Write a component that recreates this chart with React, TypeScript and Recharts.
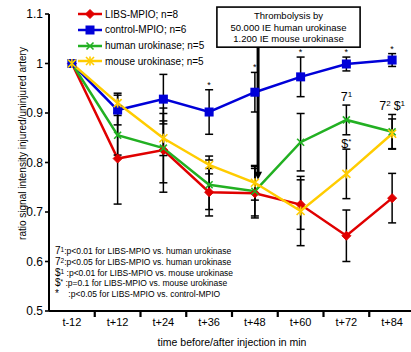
import React from 'react';
import {
  LineChart,
  Line,
  XAxis,
  YAxis,
  ErrorBar,
  ReferenceDot,
  ReferenceArea,
  ReferenceLine,
} from 'recharts';

const FONT = '"Liberation Sans", Arial, sans-serif';

// ---- data ----
const categories = ['t-12', 't+12', 't+24', 't+36', 't+48', 't+60', 't+72', 't+84'];
const libsMpio = [1.0, 0.808, 0.825, 0.74, 0.738, 0.715, 0.652, 0.728];
const libsMpioErr = [0, 0.092, 0.085, 0.048, 0.05, 0.05, 0.052, 0.05];
const controlMpio = [1.0, 0.906, 0.928, 0.902, 0.942, 0.973, 0.999, 1.007];
const controlMpioErr = [0, 0.03, 0.05, 0.045, 0.04, 0.04, 0.014, 0.013];
const humanUk = [1.0, 0.855, 0.829, 0.755, 0.742, 0.841, 0.886, 0.862];
const humanUkErr = [0, 0.04, 0.07, 0.05, 0.05, 0.058, 0.03, 0.035];
const mouseUk = [1.0, 0.92, 0.849, 0.795, 0.759, 0.702, 0.777, 0.858];
const mouseUkErr = [0, 0.02, 0.035, 0.018, 0.035, 0.07, 0.05, 0.03];
const yTicks = [0.5, 0.6, 0.7, 0.8, 0.9, 1.0, 1.1];
const starIdx = [3, 4, 5, 6, 7];
const legendNames = ['LIBS-MPIO; n=8', 'control-MPIO; n=6', 'human urokinase; n=5', 'mouse urokinase; n=5'];
const footnotes = [
  ['7', '1', ':p<0.01 for LIBS-MPIO vs. human urokinase'],
  ['7', '2', ':p<0.05 for LIBS-MPIO vs. human urokinase'],
  ['$', '1', ' :p<0.01 for LIBS-MPIO vs. mouse urokinase'],
  ['$', '*', ' :p=0.1 for LIBS-MPIO vs. mouse urokinase'],
  ['*', '', '    :p<0.05 for LIBS-MPIO vs. control-MPIO'],
];
const boxLines = ['Thrombolysis by', '50.000 IE human urokinase', '1.200 IE mouse urokinase'];
const boxX = [3.17, 6.3];
const boxY = [1.033, 1.114];
const arrowX = 4.07;
const arrowTipY = 0.765;

const data = categories.map((c, i) => ({
  x: i,
  label: c,
  libs: libsMpio[i],
  libsErr: libsMpioErr[i],
  control: controlMpio[i],
  controlErr: controlMpioErr[i],
  human: humanUk[i],
  humanErr: humanUkErr[i],
  mouse: mouseUk[i],
  mouseErr: mouseUkErr[i],
}));

const RED = '#e00000';
const BLUE = '#0000d8';
const GREEN = '#22b022';
const YELLOW = '#ffcc00';
const colors = [RED, BLUE, GREEN, YELLOW];

// ---- layout ----
const W = 415;
const H = 352;
const YAXIS_W = 49;
const XAXIS_H = 41;
const TOP = 14;
const TICK_SIZE = 4;
const TICK_MARGIN = 3;
const Y_MIN = 0.5;
const Y_MAX = 1.1;
// data units for a 6px tick below the x axis
const TICK_DATA = ((Y_MAX - Y_MIN) / (H - TOP - XAXIS_H)) * 6;

// ---- markers ----
const Marker = ({ kind, cx, cy }: { kind: number; cx: number; cy: number }) => {
  if (kind === 0) {
    const r = 4.5;
    return (
      <polygon
        points={`${cx},${cy - r} ${cx + r},${cy} ${cx},${cy + r} ${cx - r},${cy}`}
        fill={RED}
        stroke={RED}
        strokeWidth={1}
        strokeLinejoin="round"
      />
    );
  }
  if (kind === 1) {
    return <rect x={cx - 4.5} y={cy - 4.5} width={9} height={9} fill={BLUE} />;
  }
  if (kind === 2) {
    const r = 3.5;
    return (
      <g stroke={GREEN} strokeWidth={1.6}>
        <line x1={cx - r} y1={cy - r} x2={cx + r} y2={cy + r} />
        <line x1={cx - r} y1={cy + r} x2={cx + r} y2={cy - r} />
      </g>
    );
  }
  const r = 4;
  return (
    <g stroke={YELLOW} strokeWidth={1.6}>
      <line x1={cx - r} y1={cy - r} x2={cx + r} y2={cy + r} />
      <line x1={cx - r} y1={cy + r} x2={cx + r} y2={cy - r} />
      <line x1={cx} y1={cy - r - 0.5} x2={cx} y2={cy + r + 0.5} />
    </g>
  );
};

const dotFor = (kind: number) => (p: any) => (
  <Marker key={`d${kind}-${p.index}`} kind={kind} cx={p.cx} cy={p.cy} />
);

const XTick = (props: any) => {
  const { x, y, payload } = props;
  const idx = payload.value as number;
  return (
    <text x={x} y={y} dy="0.71em" textAnchor="middle" fontSize={11} fill="#000" fontFamily={FONT}>
      {categories[idx]}
    </text>
  );
};

const YLabel = (props: any) => {
  const vb = props.viewBox;
  const cx = vb.x + 23;
  const cy = vb.y + vb.height / 2 - 19;
  return (
    <text
      x={cx}
      y={cy}
      transform={`rotate(-90 ${cx} ${cy})`}
      textAnchor="middle"
      dominantBaseline="middle"
      fontSize={10}
      fontFamily={FONT}
      fill="#000"
    >
      ratio signal intensity injured/uninjured artery
    </text>
  );
};

const BoxShape = (props: any) => {
  const { x, y, width, height } = props;
  const cx = x + width / 2;
  return (
    <g>
      <rect x={x} y={y} width={width} height={height} fill="#fff" stroke="#000" strokeWidth={1.6} />
      {boxLines.map((t, i) => (
        <text
          key={i}
          x={cx}
          y={y + 9.5 + i * 11.5}
          textAnchor="middle"
          dominantBaseline="middle"
          fontSize={9.5}
          fontFamily={FONT}
          fill="#000"
        >
          {t}
        </text>
      ))}
    </g>
  );
};

const ArrowShape = (props: any) => {
  const { x1, y1, x2, y2 } = props;
  const head = 8;
  return (
    <g>
      <line x1={x1} y1={y1} x2={x2} y2={y2 - head + 1} stroke="#000" strokeWidth={3} />
      <polygon points={`${x2 - 4},${y2 - head} ${x2 + 4},${y2 - head} ${x2},${y2}`} fill="#000" />
    </g>
  );
};

const TickShape = (props: any) => {
  const { x1, y1, y2 } = props;
  return <rect x={x1 - 1.1} y={Math.min(y1, y2)} width={2.2} height={Math.abs(y2 - y1)} fill="#000" />;
};

const Star = (props: any) => (
  <text x={props.cx} y={props.cy - 2} textAnchor="middle" fontSize={9} fontFamily={FONT} fill="#000">
    *
  </text>
);

const SymbolText = ({ cx, cy, parts }: { cx: number; cy: number; parts: [string, string][] }) => (
  <text x={cx} y={cy - 4} textAnchor="middle" fontFamily={FONT} style={{ fill: '#000' }} stroke="none">
    {parts.map(([main, sup], i) => (
      <React.Fragment key={i}>
        <tspan fontSize={12.5} style={{ fill: '#000' }} dy={i === 0 ? 0 : 4} dx={i === 0 ? 0 : 3}>
          {main}
        </tspan>
        <tspan fontSize={8} style={{ fill: '#000' }} dy={-4}>
          {sup}
        </tspan>
      </React.Fragment>
    ))}
  </text>
);

const annotations: { x: number; y: number; parts: [string, string][] }[] = [
  { x: 6, y: humanUk[6] + humanUkErr[6], parts: [['7', '1']] },
  { x: 7, y: humanUk[7] + humanUkErr[7], parts: [['7', '2'], ['$', '1']] },
  { x: 6, y: mouseUk[6] + mouseUkErr[6] - 0.005, parts: [['$', '*']] },
];

export default function App() {
  const seriesKeys = ['libs', 'control', 'human', 'mouse'];
  return (
    <div
      style={{
        position: 'absolute',
        left: 0,
        top: 0,
        width: 411,
        height: H,
        overflow: 'hidden',
        background: '#fff',
        fontFamily: FONT,
      }}
    >
      <LineChart width={W} height={H} data={data} margin={{ top: TOP, right: 0, left: 0, bottom: 0 }}>
        <XAxis
          dataKey="x"
          type="number"
          domain={[-0.5, categories.length - 0.5]}
          ticks={categories.map((_, i) => i)}
          tick={(p: any) => <XTick {...p} />}
          tickLine={false}
          stroke="#000"
          tickSize={TICK_SIZE}
          tickMargin={TICK_MARGIN}
          axisLine={{ stroke: '#000', strokeWidth: 2 }}
          height={XAXIS_H}
          interval={0}
          label={{
            value: 'time before/after injection in min',
            position: 'insideBottom',
            offset: 6,
            fontSize: 10.5,
            fill: '#000',
            fontFamily: FONT,
          }}
        />
        <YAxis
          type="number"
          domain={[Y_MIN, Y_MAX]}
          ticks={yTicks}
          width={YAXIS_W}
          stroke="#000"
          tickSize={TICK_SIZE}
          tickMargin={2}
          tickLine={{ stroke: '#000', strokeWidth: 1.6 }}
          axisLine={{ stroke: '#000', strokeWidth: 2 }}
          tick={{ fontSize: 12, fill: '#000', fontFamily: FONT }}
          tickFormatter={(v: number) => (Math.abs(v - 1) < 1e-9 ? '1' : v.toFixed(1))}
          interval={0}
          label={<YLabel />}
        />
        {categories.slice(0, -1).map((_, i) => (
          <ReferenceLine
            key={`b${i}`}
            segment={[
              { x: i + 0.5, y: Y_MIN },
              { x: i + 0.5, y: Y_MIN - TICK_DATA },
            ]}
            ifOverflow="visible"
            stroke="#000"
            strokeWidth={2}
            shape={<TickShape />}
          />
        ))}
        {seriesKeys.map((k, i) => (
          <Line
            key={k}
            dataKey={k}
            stroke={colors[i]}
            strokeWidth={2.5}
            dot={dotFor(i)}
            activeDot={false}
            isAnimationActive={false}
          >
            <ErrorBar dataKey={`${k}Err`} direction="y" width={4} stroke="#000" strokeWidth={1.5} />
          </Line>
        ))}
        <ReferenceArea
          x1={boxX[0]}
          x2={boxX[1]}
          y1={boxY[0]}
          y2={boxY[1]}
          ifOverflow="visible"
          shape={<BoxShape />}
        />
        <ReferenceLine
          segment={[
            { x: arrowX, y: boxY[0] },
            { x: arrowX, y: arrowTipY },
          ]}
          ifOverflow="visible"
          shape={<ArrowShape />}
        />
        {starIdx.map((i) => (
          <ReferenceDot
            key={`s${i}`}
            x={i}
            y={controlMpio[i] + controlMpioErr[i]}
            ifOverflow="visible"
            shape={<Star />}
          />
        ))}
        {annotations.map((a, i) => (
          <ReferenceDot
            key={`a${i}`}
            x={a.x}
            y={a.y}
            ifOverflow="visible"
            shape={(p: any) => <SymbolText cx={p.cx} cy={p.cy} parts={a.parts} />}
          />
        ))}
      </LineChart>

      {/* legend */}
      {legendNames.map((name, i) => (
        <div
          key={name}
          style={{
            position: 'absolute',
            left: 77,
            top: 14 + i * 15.8 - 8,
            height: 16,
            display: 'flex',
            alignItems: 'center',
            fontSize: 10,
            color: '#000',
            whiteSpace: 'nowrap',
          }}
        >
          <svg width={26} height={16} style={{ display: 'block' }}>
            <line x1={1} y1={8} x2={25} y2={8} stroke={colors[i]} strokeWidth={2.5} />
            <Marker kind={i} cx={13} cy={8} />
          </svg>
          <span style={{ marginLeft: 2 }}>{name}</span>
        </div>
      ))}

      {/* footnotes */}
      {footnotes.map(([sym, sup, rest], i) => (
        <div
          key={i}
          style={{
            position: 'absolute',
            left: 55,
            top: 251 + i * 10.8 - 6,
            height: 12,
            lineHeight: '12px',
            fontSize: 8.5,
            color: '#000',
            whiteSpace: 'pre',
          }}
        >
          <span style={{ fontSize: 10 }}>{sym}</span>
          <span style={{ fontSize: 6.5, verticalAlign: 'top', position: 'relative', top: -1 }}>{sup}</span>
          <span>{rest}</span>
        </div>
      ))}
    </div>
  );
}
